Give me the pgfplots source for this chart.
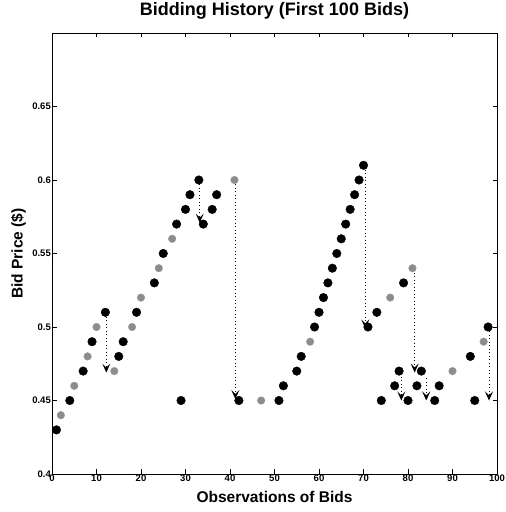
\documentclass[border=0pt]{standalone}
\usepackage{pgfplots}
\pgfplotsset{compat=1.18}
\usepackage{fontspec}
\setmainfont{Liberation Sans}
\usetikzlibrary{arrows.meta}
\begin{document}
\begin{tikzpicture}
\begin{axis}[
  scale only axis,
  width=445pt, height=441pt,
  xmin=0, xmax=100, ymin=0.4, ymax=0.7,
  axis line style={line width=0.9pt},
  tick align=inside,
  major tick length=4.5pt,
  tick style={line width=0.9pt, black},
  xtick={0,10,...,100},
  xticklabels={0,10,20,30,40,50,60,70,80,90,100},
  ytick={0.4,0.45,0.5,0.55,0.6,0.65},
  yticklabels={0.4,0.45,0.5,0.55,0.6,0.65},
  ticklabel style={font=\bfseries\fontsize{9.5}{10}\selectfont, inner sep=1pt},
  title={\bfseries Bidding History (First 100 Bids)},
  title style={font=\fontsize{18}{20}\selectfont, at={(axis description cs:0.5,1.027)}, anchor=base},
  xlabel={\bfseries Observations of Bids},
  xlabel style={font=\fontsize{15.5}{17}\selectfont, at={(axis description cs:0.5,-0.064)}, anchor=base},
  ylabel={\bfseries Bid Price (\$)},
  ylabel style={font=\fontsize{15.5}{17}\selectfont, at={(axis description cs:-0.066,0.5)}, anchor=base, rotate=0},
  clip=false,
]
% dotted drop arrows
\pgfplotsset{droparrow/.style={black, line width=0.9pt, dash pattern=on 0.9pt off 2.6pt, -{Stealth[length=9pt,width=8pt,inset=4pt]}}}
\addplot[droparrow] coordinates {(12.2,0.507) (12.2,0.469)};
\addplot[droparrow] coordinates {(33.2,0.597) (33.2,0.571)};
\addplot[droparrow] coordinates {(41.2,0.597) (41.2,0.451)};
\addplot[droparrow] coordinates {(70.4,0.607) (70.4,0.499)};
\addplot[droparrow] coordinates {(78.5,0.466) (78.5,0.450)};
\addplot[droparrow] coordinates {(81.5,0.537) (81.5,0.469)};
\addplot[droparrow] coordinates {(84.1,0.465) (84.1,0.450)};
\addplot[droparrow] coordinates {(98.2,0.497) (98.2,0.450)};
% gray bids
\addplot[only marks, mark=*, mark size=3.8pt, color=black!50, mark options={draw=black!40, fill=black!45}] coordinates {
(2,0.44) (5,0.46) (8,0.48) (10,0.50) (14,0.47) (18,0.50) (20,0.52) (24,0.54) (27,0.56)
(41,0.60) (47,0.45) (58,0.49) (76,0.52) (81,0.54) (90,0.47) (97,0.49)
};
% black bids
\addplot[only marks, mark=*, mark size=4.3pt, black] coordinates {
(1,0.43) (4,0.45) (7,0.47) (9,0.49) (12,0.51) (15,0.48) (16,0.49) (19,0.51) (23,0.53)
(25,0.55) (28,0.57) (29,0.45) (30,0.58) (31,0.59) (33,0.60) (34,0.57) (36,0.58) (37,0.59)
(42,0.45) (51,0.45) (52,0.46) (55,0.47) (56,0.48) (59,0.50) (60,0.51) (61,0.52) (62,0.53)
(63,0.54) (64,0.55) (65,0.56) (66,0.57) (67,0.58) (68,0.59) (69,0.60) (70,0.61) (71,0.50)
(73,0.51) (74,0.45) (77,0.46) (78,0.47) (79,0.53) (80,0.45) (82,0.46) (83,0.47) (86,0.45)
(87,0.46) (94,0.48) (95,0.45) (98,0.50)
};
\end{axis}
\pgfresetboundingbox
\path ([shift={(-52pt,-38pt)}]current axis.south west) rectangle ([shift={(8pt,33pt)}]current axis.north east);
\end{tikzpicture}
\end{document}
